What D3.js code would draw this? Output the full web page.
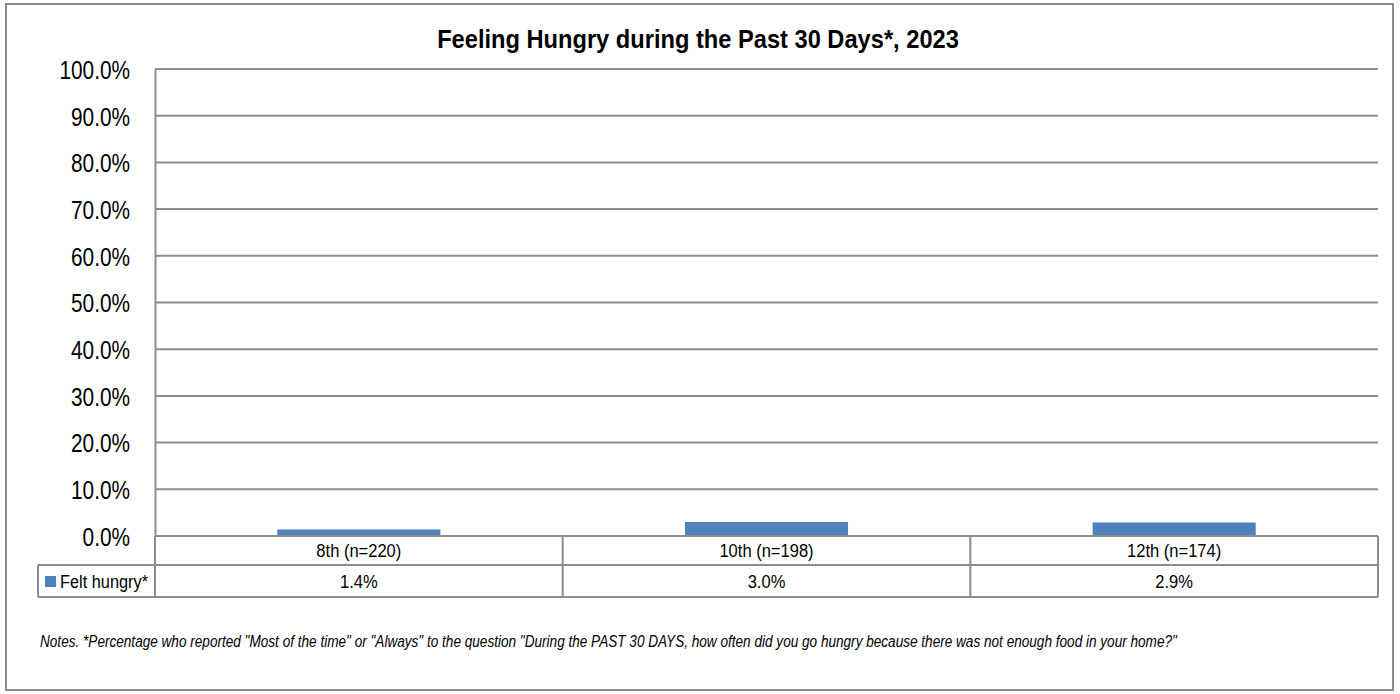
<!DOCTYPE html>
<html>
<head>
<meta charset="utf-8">
<script src="https://cdn.jsdelivr.net/npm/d3@7"></script>
<style>
  html, body { margin: 0; padding: 0; background: #fff; }
  svg { display: block; font-family: "Liberation Sans", Arial, sans-serif; }
</style>
</head>
<body>
<svg id="chart" width="1400" height="694"></svg>
<script>
// Chart data
const categories = ["8th (n=220)", "10th (n=198)", "12th (n=174)"];
const seriesName = "Felt hungry*";
const values = [1.4, 3.0, 2.9];
const tickValues = [0, 10, 20, 30, 40, 50, 60, 70, 80, 90, 100];
const titleText = "Feeling Hungry during the Past 30 Days*, 2023";
const noteText = "Notes. *Percentage who reported \"Most of the time\" or \"Always\" to the question \"During the PAST 30 DAYS, how often did you go hungry because there was not enough food in your home?\"";

const svg = d3.select("#chart");
const gridColor = "#8c8c8c";
const barColor = "#4f81bd";

// Condensed text: a regular face squeezed horizontally around its anchor point
function narrowText(parent, x, y, str, opts) {
  const g = parent.append("g")
    .attr("transform", `translate(${x},${y}) scale(${opts.sx},1)`);
  return g.append("text")
    .attr("x", 0).attr("y", 0)
    .attr("text-anchor", opts.anchor || "start")
    .attr("font-size", opts.size)
    .attr("font-weight", opts.weight || "normal")
    .attr("font-style", opts.style || "normal")
    .attr("fill", "#000")
    .text(str);
}

// Outer frame
svg.append("rect")
  .attr("x", 6).attr("y", 4).attr("width", 1387).attr("height", 686)
  .attr("fill", "#fff").attr("stroke", gridColor).attr("stroke-width", 2);

const plot = { left: 155, right: 1378, top: 69, bottom: 536 };
const tableRows = [536, 565, 597];
const legendLeft = 38;

const x = d3.scaleBand().domain(categories).range([plot.left, plot.right]).paddingInner(0).paddingOuter(0);
const y = d3.scaleLinear().domain([0, 100]).range([plot.bottom, plot.top]);

// Title
narrowText(svg, 698, 48, titleText, { size: 26, sx: 0.91, anchor: "middle", weight: "bold" });

// Gridlines
svg.append("g")
  .selectAll("line")
  .data(tickValues)
  .join("line")
  .attr("x1", plot.left).attr("x2", plot.right)
  .attr("y1", d => y(d)).attr("y2", d => y(d))
  .attr("stroke", gridColor).attr("stroke-width", 2);

// Y axis
const tickPad = 25;
const yAxis = d3.axisLeft(y).tickValues(tickValues).tickSize(0).tickPadding(tickPad)
  .tickFormat(d => d.toFixed(1) + "%");
const gy = svg.append("g").attr("transform", `translate(${plot.left},0)`).call(yAxis);
gy.select(".domain").attr("stroke", gridColor).attr("stroke-width", 2);
gy.selectAll(".tick text")
  .attr("x", 0)
  .attr("dy", "0.36em")
  .attr("transform", `translate(${-tickPad},0) scale(0.8,1)`)
  .attr("font-size", 26).attr("fill", "#000")
  .attr("font-family", "\"Liberation Sans\", Arial, sans-serif");

// Bars
const barW = x.bandwidth() * 0.4;
svg.append("g")
  .selectAll("rect")
  .data(values)
  .join("rect")
  .attr("x", (d, i) => x(categories[i]) + (x.bandwidth() - barW) / 2)
  .attr("y", d => y(d))
  .attr("width", barW)
  .attr("height", d => y(0) - y(d))
  .attr("fill", barColor);

// Data table
const tbl = svg.append("g").attr("fill", "none").attr("stroke", gridColor).attr("stroke-width", 2);
tbl.append("line").attr("x1", plot.left).attr("x2", plot.right).attr("y1", tableRows[0]).attr("y2", tableRows[0]);
tbl.append("line").attr("x1", legendLeft).attr("x2", plot.right).attr("y1", tableRows[1]).attr("y2", tableRows[1]);
tbl.append("line").attr("x1", legendLeft).attr("x2", plot.right).attr("y1", tableRows[2]).attr("y2", tableRows[2]);
tbl.append("line").attr("x1", legendLeft).attr("x2", legendLeft).attr("y1", tableRows[1]).attr("y2", tableRows[2]);
tbl.selectAll("line.v")
  .data(categories.map(c => x(c)).concat([plot.right]))
  .join("line")
  .attr("class", "v")
  .attr("x1", d => d).attr("x2", d => d)
  .attr("y1", tableRows[0]).attr("y2", tableRows[2]);

// Category labels (table header row)
const row1Base = (tableRows[0] + tableRows[1]) / 2 + 6.5;
const row2Base = (tableRows[1] + tableRows[2]) / 2 + 6.5;
const labelLayer = svg.append("g");
categories.forEach(c => {
  narrowText(labelLayer, x(c) + x.bandwidth() / 2, row1Base, c, { size: 19, sx: 0.87, anchor: "middle" });
});

// Value labels (table data row)
values.forEach((v, i) => {
  narrowText(labelLayer, x(categories[i]) + x.bandwidth() / 2, row2Base, v.toFixed(1) + "%", { size: 19, sx: 0.87, anchor: "middle" });
});

// Legend key in table
svg.append("rect")
  .attr("x", 45).attr("y", (tableRows[1] + tableRows[2]) / 2 - 5)
  .attr("width", 11).attr("height", 11).attr("fill", barColor);
narrowText(svg, 60, row2Base, seriesName, { size: 19, sx: 0.86 });

// Notes
narrowText(svg, 40, 647, noteText, { size: 17, sx: 0.8, style: "italic" });
</script>
</body>
</html>
